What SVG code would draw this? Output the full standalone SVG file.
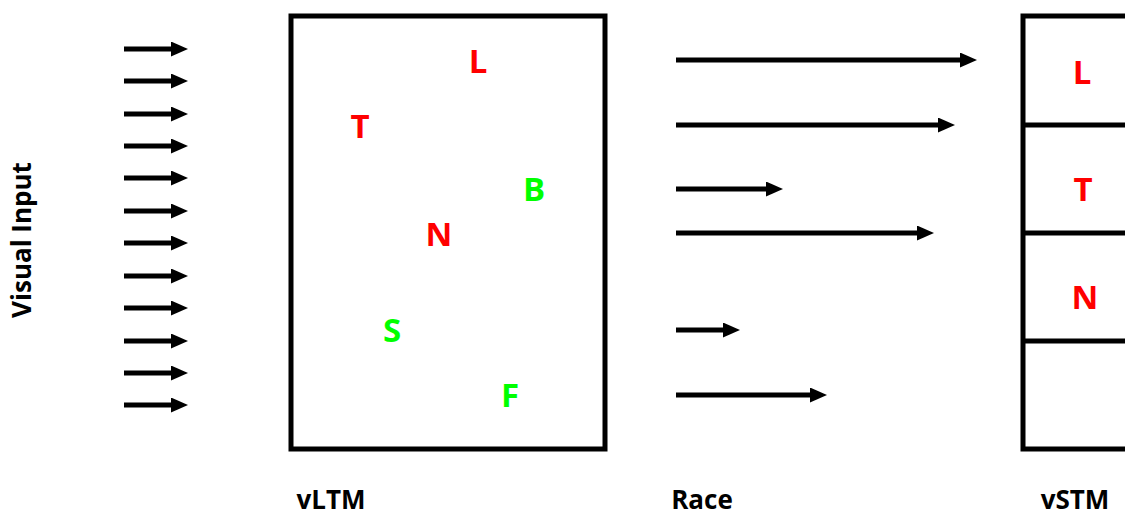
<svg xmlns="http://www.w3.org/2000/svg" width="1125" height="516" viewBox="0 0 1125 516">
<style>
.lbl{font-family:"Open Sans","Liberation Sans",sans-serif;font-weight:bold;font-size:26px;fill:#000;text-anchor:middle}
.let{font-family:"Open Sans","Liberation Sans",sans-serif;font-weight:bold;font-size:33px;text-anchor:middle;dominant-baseline:central}
.red{fill:#ff0000}
.grn{fill:#00ff00}
.box{fill:#fff;stroke:#000;stroke-width:5}
.arr{stroke:#000;stroke-width:5;fill:none;marker-end:url(#ah)}
</style>
<defs>
<marker id="ah" markerUnits="userSpaceOnUse" markerWidth="17" markerHeight="15" refX="1" refY="7.5" orient="auto">
<path d="M0,0 L17,7.5 L0,15 z" fill="#000"/>
</marker>
</defs>
<rect width="1125" height="516" fill="#fff"/>
<g id="visual-input">
<text class="lbl" transform="translate(31,240) rotate(-90)">Visual Input</text>
</g>
<g id="vLTM">
<rect class="box" x="291" y="16" width="314" height="433"/>
<text class="let red" x="478" y="60">L</text>
<text class="let red" x="360" y="125">T</text>
<text class="let grn" x="534" y="188">B</text>
<text class="let red" x="439" y="233">N</text>
<text class="let grn" x="392" y="329">S</text>
<text class="let grn" x="510" y="394">F</text>
<text class="lbl" x="331" y="509">vLTM</text>
</g>
<g id="race">
<text class="lbl" x="702" y="509">Race</text>
</g>
<g id="vSTM">
<rect class="box" x="1023" y="16" width="120" height="433"/>
<line x1="1023" y1="125" x2="1130" y2="125" stroke="#000" stroke-width="5"/>
<line x1="1023" y1="233" x2="1130" y2="233" stroke="#000" stroke-width="5"/>
<line x1="1023" y1="341" x2="1130" y2="341" stroke="#000" stroke-width="5"/>
<text class="let red" x="1082" y="71">L</text>
<text class="let red" x="1083" y="188">T</text>
<text class="let red" x="1085" y="296">N</text>
<text class="lbl" x="1075" y="509">vSTM</text>
</g>
<g id="connectors">
<line class="arr" x1="124" y1="49" x2="172" y2="49"/>
<line class="arr" x1="124" y1="81" x2="172" y2="81"/>
<line class="arr" x1="124" y1="114" x2="172" y2="114"/>
<line class="arr" x1="124" y1="146" x2="172" y2="146"/>
<line class="arr" x1="124" y1="178" x2="172" y2="178"/>
<line class="arr" x1="124" y1="211" x2="172" y2="211"/>
<line class="arr" x1="124" y1="243" x2="172" y2="243"/>
<line class="arr" x1="124" y1="276" x2="172" y2="276"/>
<line class="arr" x1="124" y1="308" x2="172" y2="308"/>
<line class="arr" x1="124" y1="341" x2="172" y2="341"/>
<line class="arr" x1="124" y1="373" x2="172" y2="373"/>
<line class="arr" x1="124" y1="405" x2="172" y2="405"/>
<line class="arr" x1="676" y1="60" x2="961" y2="60"/>
<line class="arr" x1="676" y1="125" x2="939" y2="125"/>
<line class="arr" x1="676" y1="189" x2="767" y2="189"/>
<line class="arr" x1="676" y1="233" x2="918" y2="233"/>
<line class="arr" x1="676" y1="330" x2="724" y2="330"/>
<line class="arr" x1="676" y1="395" x2="811" y2="395"/>
</g>
</svg>
